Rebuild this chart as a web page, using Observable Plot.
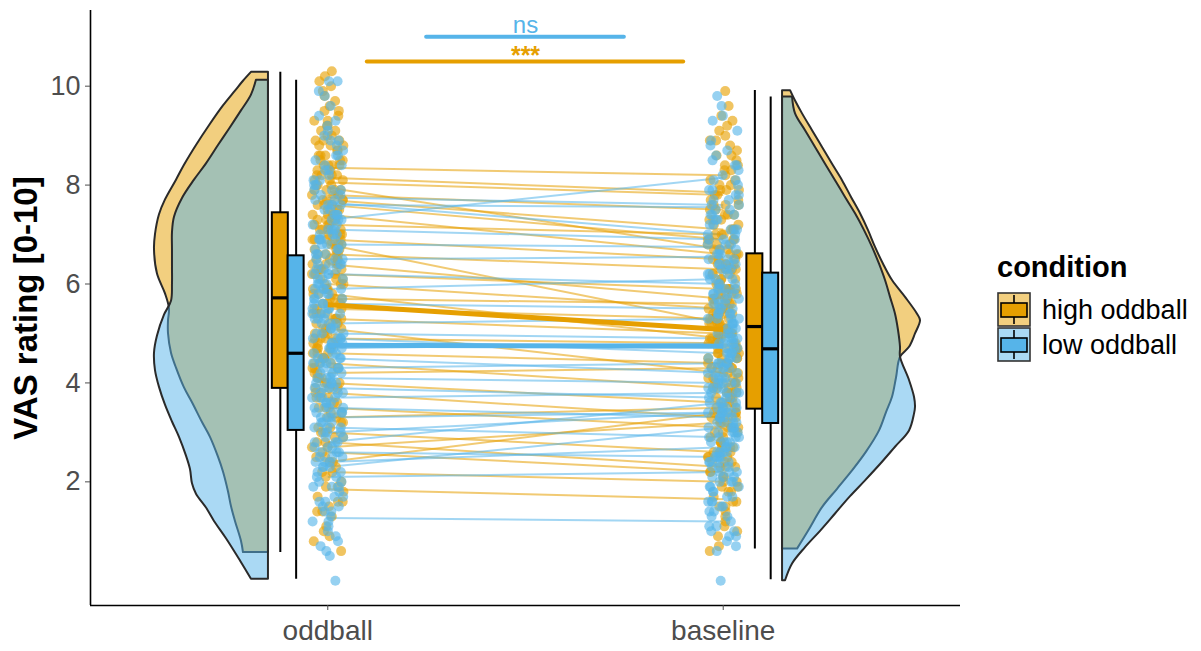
<!DOCTYPE html>
<html><head><meta charset="utf-8">
<script src="https://cdn.jsdelivr.net/npm/d3@7"></script>
<script src="https://cdn.jsdelivr.net/npm/@observablehq/plot@0.6"></script>
<style>
body{margin:0;background:#fff;font-family:"Liberation Sans",Arial,sans-serif;}
#wrap{position:relative;width:1201px;height:651px;overflow:hidden;}
#legend{position:absolute;left:990px;top:245px;}
</style></head><body><div id="wrap"></div>
<script>
const categories = ["oddball", "baseline"];
const conditions = ["high oddball", "low oddball"];
const colors = ["#E69F00", "#56B4E9"];
const yTicks = [2, 4, 6, 8, 10];
const sigLabels = ["***", "ns"];

// raw ratings (jittered points)
const oddballHigh = [0.6,0.8,0.9,1.0,1.1,1.3,1.4,1.4,1.5,1.6,1.6,1.7,1.8,1.9,1.9,2.0,2.1,2.2,2.2,2.3,2.4,2.4,2.5,2.5,2.6,2.7,2.7,2.8,2.8,2.9,2.9,3.0,3.0,3.1,3.1,3.2,3.2,3.3,3.3,3.4,3.4,3.5,3.5,3.6,3.6,3.7,3.7,3.7,3.8,3.8,3.9,3.9,3.9,4.0,4.0,4.0,4.1,4.1,4.1,4.2,4.2,4.3,4.3,4.3,4.4,4.4,4.4,4.5,4.5,4.5,4.6,4.6,4.6,4.7,4.7,4.7,4.8,4.8,4.8,4.9,4.9,4.9,4.9,5.0,5.0,5.0,5.1,5.1,5.1,5.2,5.2,5.2,5.3,5.3,5.3,5.3,5.4,5.4,5.4,5.4,5.5,5.5,5.5,5.6,5.6,5.6,5.7,5.7,5.7,5.8,5.8,5.8,5.9,5.9,5.9,5.9,6.0,6.0,6.0,6.1,6.1,6.1,6.2,6.2,6.2,6.3,6.3,6.3,6.3,6.4,6.4,6.4,6.4,6.5,6.5,6.5,6.5,6.6,6.6,6.6,6.6,6.7,6.7,6.7,6.8,6.8,6.8,6.8,6.9,6.9,6.9,6.9,7.0,7.0,7.0,7.0,7.1,7.1,7.1,7.1,7.2,7.2,7.2,7.3,7.3,7.3,7.3,7.4,7.4,7.4,7.4,7.5,7.5,7.5,7.6,7.6,7.6,7.7,7.7,7.7,7.7,7.8,7.8,7.8,7.9,7.9,7.9,7.9,8.0,8.0,8.0,8.1,8.1,8.1,8.2,8.2,8.2,8.2,8.3,8.3,8.3,8.4,8.4,8.4,8.4,8.5,8.5,8.5,8.6,8.6,8.6,8.7,8.7,8.8,8.8,8.8,8.9,8.9,8.9,9.0,9.0,9.1,9.1,9.2,9.2,9.3,9.3,9.4,9.5,9.5,9.6,9.7,9.8,9.9,10.0,10.1,10.2,10.3];
const oddballLow = [0.0,0.5,0.6,0.7,0.8,0.9,1.0,1.1,1.2,1.2,1.3,1.4,1.4,1.5,1.5,1.6,1.6,1.7,1.7,1.8,1.9,1.9,1.9,2.0,2.0,2.1,2.1,2.2,2.2,2.3,2.3,2.3,2.4,2.4,2.4,2.5,2.5,2.5,2.6,2.6,2.6,2.7,2.7,2.7,2.8,2.8,2.8,2.9,2.9,3.0,3.0,3.0,3.1,3.1,3.1,3.2,3.2,3.2,3.3,3.3,3.3,3.4,3.4,3.4,3.4,3.5,3.5,3.5,3.5,3.6,3.6,3.6,3.7,3.7,3.7,3.7,3.8,3.8,3.8,3.9,3.9,3.9,3.9,4.0,4.0,4.0,4.0,4.1,4.1,4.1,4.2,4.2,4.2,4.2,4.3,4.3,4.3,4.4,4.4,4.4,4.4,4.5,4.5,4.5,4.5,4.6,4.6,4.6,4.7,4.7,4.7,4.7,4.8,4.8,4.8,4.9,4.9,4.9,4.9,5.0,5.0,5.0,5.1,5.1,5.1,5.2,5.2,5.2,5.3,5.3,5.3,5.4,5.4,5.4,5.4,5.5,5.5,5.5,5.6,5.6,5.6,5.7,5.7,5.7,5.8,5.8,5.8,5.9,5.9,5.9,5.9,6.0,6.0,6.0,6.1,6.1,6.1,6.2,6.2,6.2,6.3,6.3,6.3,6.4,6.4,6.4,6.4,6.5,6.5,6.5,6.6,6.6,6.6,6.7,6.7,6.7,6.8,6.8,6.8,6.9,6.9,6.9,6.9,7.0,7.0,7.0,7.1,7.1,7.1,7.2,7.2,7.3,7.3,7.3,7.4,7.4,7.4,7.5,7.5,7.6,7.6,7.6,7.7,7.7,7.8,7.8,7.9,7.9,7.9,8.0,8.0,8.1,8.1,8.2,8.3,8.3,8.4,8.4,8.5,8.6,8.6,8.7,8.8,8.9,8.9,9.0,9.1,9.2,9.3,9.4,9.6,9.8,9.9,10.1,10.1];
const baselineHigh = [0.6,0.7,0.9,1.0,1.1,1.2,1.3,1.4,1.5,1.5,1.6,1.6,1.7,1.8,1.8,1.9,1.9,2.0,2.0,2.1,2.1,2.2,2.2,2.3,2.3,2.3,2.4,2.4,2.4,2.5,2.5,2.5,2.6,2.6,2.6,2.7,2.7,2.7,2.8,2.8,2.8,2.9,2.9,3.0,3.0,3.0,3.1,3.1,3.1,3.2,3.2,3.2,3.3,3.3,3.3,3.3,3.4,3.4,3.4,3.4,3.5,3.5,3.5,3.6,3.6,3.6,3.7,3.7,3.7,3.8,3.8,3.8,3.8,3.9,3.9,3.9,3.9,4.0,4.0,4.0,4.0,4.1,4.1,4.1,4.1,4.2,4.2,4.2,4.3,4.3,4.3,4.3,4.4,4.4,4.4,4.4,4.5,4.5,4.5,4.5,4.6,4.6,4.6,4.6,4.7,4.7,4.7,4.7,4.8,4.8,4.8,4.8,4.9,4.9,4.9,4.9,4.9,5.0,5.0,5.0,5.0,5.0,5.1,5.1,5.1,5.1,5.2,5.2,5.2,5.2,5.2,5.3,5.3,5.3,5.3,5.4,5.4,5.4,5.4,5.4,5.5,5.5,5.5,5.5,5.6,5.6,5.6,5.6,5.7,5.7,5.7,5.7,5.8,5.8,5.8,5.8,5.9,5.9,5.9,5.9,5.9,6.0,6.0,6.0,6.1,6.1,6.1,6.2,6.2,6.2,6.3,6.3,6.3,6.3,6.4,6.4,6.4,6.4,6.5,6.5,6.5,6.6,6.6,6.6,6.7,6.7,6.7,6.8,6.8,6.8,6.9,6.9,6.9,6.9,7.0,7.0,7.0,7.1,7.1,7.1,7.2,7.2,7.3,7.3,7.3,7.4,7.4,7.4,7.5,7.5,7.6,7.6,7.6,7.7,7.7,7.8,7.8,7.9,7.9,7.9,8.0,8.0,8.1,8.1,8.2,8.3,8.3,8.4,8.4,8.5,8.6,8.6,8.7,8.8,8.9,8.9,9.0,9.1,9.2,9.3,9.4,9.6,9.9];
const baselineLow = [0.0,0.6,0.7,0.8,0.9,0.9,1.0,1.0,1.1,1.1,1.2,1.3,1.3,1.4,1.4,1.5,1.5,1.6,1.6,1.6,1.7,1.7,1.8,1.8,1.9,1.9,1.9,2.0,2.0,2.0,2.1,2.1,2.1,2.2,2.2,2.2,2.3,2.3,2.3,2.4,2.4,2.4,2.4,2.5,2.5,2.5,2.5,2.6,2.6,2.6,2.6,2.7,2.7,2.7,2.8,2.8,2.8,2.8,2.9,2.9,2.9,2.9,3.0,3.0,3.0,3.0,3.1,3.1,3.1,3.1,3.2,3.2,3.2,3.2,3.3,3.3,3.3,3.3,3.4,3.4,3.4,3.4,3.4,3.5,3.5,3.5,3.5,3.6,3.6,3.6,3.6,3.7,3.7,3.7,3.8,3.8,3.8,3.8,3.9,3.9,3.9,3.9,4.0,4.0,4.0,4.0,4.1,4.1,4.1,4.1,4.2,4.2,4.2,4.3,4.3,4.3,4.3,4.4,4.4,4.4,4.4,4.5,4.5,4.5,4.5,4.6,4.6,4.6,4.6,4.7,4.7,4.7,4.8,4.8,4.8,4.8,4.9,4.9,4.9,4.9,5.0,5.0,5.0,5.1,5.1,5.1,5.2,5.2,5.2,5.3,5.3,5.3,5.3,5.4,5.4,5.4,5.4,5.5,5.5,5.5,5.6,5.6,5.6,5.7,5.7,5.7,5.8,5.8,5.8,5.8,5.9,5.9,5.9,5.9,6.0,6.0,6.0,6.1,6.1,6.1,6.2,6.2,6.2,6.3,6.3,6.3,6.4,6.4,6.4,6.4,6.5,6.5,6.5,6.6,6.6,6.6,6.7,6.7,6.8,6.8,6.8,6.9,6.9,6.9,7.0,7.0,7.1,7.1,7.1,7.2,7.2,7.3,7.3,7.4,7.4,7.4,7.5,7.5,7.6,7.6,7.7,7.7,7.8,7.8,7.9,7.9,8.0,8.1,8.1,8.2,8.3,8.4,8.4,8.5,8.6,8.7,8.8,8.9,9.1,9.3,9.4,9.6,9.8];

// per-subject means: oddball -> baseline
const subjHighOddball  = [8.35,8.15,8.05,7.95,7.8,7.7,7.6,7.4,7.2,6.9,6.8,6.6,6.4,6.2,6.0,5.8,5.7,5.5,5.3,5.1,4.9,4.6,4.4,4.2,4.0,3.8,3.5,3.3,3.0,2.8,2.7,2.6,2.4,2.2,1.85];
const subjHighBaseline = [8.2,7.85,7.8,6.7,7.5,7.1,6.9,6.6,7.0,6.5,5.2,6.3,5.7,5.9,5.5,4.9,5.6,5.3,5.0,4.2,4.8,4.4,3.9,4.3,3.6,3.3,3.1,3.5,2.6,2.3,3.2,2.2,3.4,2.0,1.65];
const subjLowOddball   = [7.75,7.65,7.6,7.3,7.1,6.8,6.5,6.2,5.9,5.6,5.2,5.0,4.9,4.7,4.5,4.3,4.1,3.9,3.7,3.5,3.3,3.1,3.0,2.8,2.6,2.4,2.3,2.1,1.27];
const subjLowBaseline  = [7.6,7.0,7.55,8.15,6.9,6.75,6.55,6.0,6.1,5.5,5.3,4.9,4.6,4.8,4.2,4.4,4.0,3.7,3.8,3.3,3.4,2.9,3.4,3.6,2.5,2.7,3.1,2.2,1.2];

// group means [oddball, baseline]
const meanHigh = [5.58, 5.08];
const meanLow  = [4.76, 4.74];

// box stats [min, q1, median, q3, max]
const boxOddballHigh  = [0.57, 3.89, 5.72, 7.44, 10.28];
const boxOddballLow   = [0.03, 3.04, 4.60, 6.57, 10.12];
const boxBaselineHigh = [0.64, 3.47, 5.14, 6.61, 9.91];
const boxBaselineLow  = [0.02, 3.18, 4.69, 6.22, 9.78];

// half-violin densities [rating, density]
const densOddballHigh = [[0.57,0.25],[0.8,0.27],[1.2,0.33],[1.5,0.37],[1.8,0.40],[2.2,0.45],[2.5,0.50],[2.9,0.58],[3.2,0.66],[3.6,0.76],[3.9,0.84],[4.3,0.92],[4.6,0.97],[5.0,1.00],[5.25,1.00],[5.5,0.99],[5.8,1.03],[6.2,1.11],[6.7,1.14],[7.0,1.13],[7.4,1.09],[7.7,1.03],[8.1,0.92],[8.4,0.84],[8.8,0.72],[9.2,0.59],[9.6,0.45],[9.9,0.33],[10.1,0.25],[10.28,0.17]];
const densOddballLow = [[0.03,0.17],[0.4,0.28],[0.85,0.42],[1.2,0.54],[1.47,0.62],[1.75,0.72],[1.96,0.76],[2.25,0.78],[2.52,0.82],[2.9,0.89],[3.21,0.96],[3.55,1.03],[3.91,1.09],[4.25,1.13],[4.6,1.14],[4.95,1.11],[5.37,1.04],[5.65,0.97],[6.0,0.96],[6.34,0.96],[6.7,0.96],[7.04,0.96],[7.35,0.94],[7.73,0.86],[8.1,0.74],[8.43,0.62],[8.8,0.5],[9.13,0.39],[9.5,0.27],[9.82,0.17],[10.12,0.12]];
const densBaselineHigh = [[0.64,0.15],[1.0,0.26],[1.48,0.40],[1.85,0.55],[2.22,0.70],[2.6,0.84],[3.03,0.97],[3.4,1.04],[3.71,1.10],[4.1,1.14],[4.52,1.18],[4.72,1.27],[4.99,1.33],[5.26,1.38],[5.39,1.35],[5.73,1.23],[6.07,1.10],[6.4,1.01],[6.74,0.93],[7.08,0.86],[7.42,0.78],[7.75,0.69],[8.09,0.60],[8.42,0.50],[8.76,0.40],[9.1,0.30],[9.44,0.20],[9.7,0.13],[9.91,0.08]];
const densBaselineLow = [[0.0,0.03],[0.34,0.10],[0.67,0.23],[1.0,0.38],[1.35,0.53],[1.7,0.68],[2.02,0.83],[2.35,0.98],[2.70,1.13],[3.03,1.27],[3.37,1.32],[3.51,1.33],[3.71,1.32],[4.05,1.27],[4.52,1.18],[4.72,1.18],[5.06,1.16],[5.39,1.13],[5.73,1.08],[6.07,1.03],[6.4,0.97],[6.74,0.90],[7.08,0.82],[7.42,0.73],[7.75,0.63],[8.09,0.53],[8.42,0.43],[8.76,0.33],[9.1,0.23],[9.44,0.13],[9.78,0.10]];

// ---------- layout helpers ----------
const pos = c => categories.indexOf(c) + 1;
const densScale = 0.2528;     // density -> x units
const violinGap = 0.15;       // flat edge offset from category
const boxHalf = 0.0202;
const jitterWidth = 0.08;
function jit(i, s) { const t = Math.sin((i + 1) * 12.9898 + s * 78.233) * 43758.5453; return t - Math.floor(t); }

const groups = [
  {cat: "oddball", cond: 0, vals: oddballHigh, dens: densOddballHigh, box: boxOddballHigh, side: -1, boxOff: -0.12},
  {cat: "oddball", cond: 1, vals: oddballLow, dens: densOddballLow, box: boxOddballLow, side: -1, boxOff: -0.08},
  {cat: "baseline", cond: 0, vals: baselineHigh, dens: densBaselineHigh, box: boxBaselineHigh, side: 1, boxOff: 0.08},
  {cat: "baseline", cond: 1, vals: baselineLow, dens: densBaselineLow, box: boxBaselineLow, side: 1, boxOff: 0.12}
];

const marks = [];
// violins
for (const g of groups) {
  const flat = pos(g.cat) + g.side * violinGap;
  marks.push(Plot.areaX(g.dens, {
    y: d => d[0], x1: d => flat, x2: d => flat + g.side * d[1] * densScale,
    fill: colors[g.cond], fillOpacity: 0.5, stroke: "#2a2a2a", strokeWidth: 2, curve: "catmull-rom"
  }));
}
// subject lines
const subj = [
  {o: subjHighOddball, b: subjHighBaseline, cond: 0},
  {o: subjLowOddball, b: subjLowBaseline, cond: 1}
];
for (const s of subj) {
  const rows = s.o.map((v, i) => ({y1: v, y2: s.b[i]}));
  marks.push(Plot.link(rows, {x1: () => pos("oddball"), x2: () => pos("baseline"), y1: "y1", y2: "y2",
    stroke: colors[s.cond], strokeOpacity: 0.55, strokeWidth: 2}));
}
// points
groups.forEach((g, gi) => {
  const rows = g.vals.map((v, i) => ({x: pos(g.cat) + (jit(i, gi) - 0.5) * jitterWidth, y: v}));
  marks.push(Plot.dot(rows, {x: "x", y: "y", r: 5, fill: colors[g.cond], fillOpacity: 0.62, stroke: "none"}));
});
// mean lines
[meanHigh, meanLow].forEach((m, ci) => {
  marks.push(Plot.link([m], {x1: () => pos("oddball"), x2: () => pos("baseline"), y1: d => d[0], y2: d => d[1],
    stroke: colors[ci], strokeWidth: 5}));
});
// boxplots
for (const g of groups) {
  const c = pos(g.cat) + g.boxOff;
  marks.push(Plot.ruleX([g.box], {x: () => c, y1: d => d[0], y2: d => d[4], stroke: "#000", strokeWidth: 2}));
  marks.push(Plot.rect([g.box], {x1: () => c - boxHalf, x2: () => c + boxHalf, y1: d => d[1], y2: d => d[3],
    fill: colors[g.cond], stroke: "#000", strokeWidth: 2}));
  marks.push(Plot.ruleY([g.box], {y: d => d[2], x1: () => c - boxHalf, x2: () => c + boxHalf, stroke: "#000", strokeWidth: 3.2}));
}
// significance bars
const sig = [
  {label: sigLabels[0], cond: 0, x1: 1.1, x2: 1.9, y: 10.5, fs: 25, dy: 3, fw: "bold"},
  {label: sigLabels[1], cond: 1, x1: 1.25, x2: 1.75, y: 11.0, fs: 24, dy: -4, fw: "normal"}
];
for (const s of sig) {
  marks.push(Plot.ruleY([s], {y: "y", x1: "x1", x2: "x2", stroke: colors[s.cond], strokeWidth: 4, strokeLinecap: "round"}));
  marks.push(Plot.text([s], {x: d => (d.x1 + d.x2) / 2, y: "y", text: "label", fill: colors[s.cond],
    fontSize: s.fs, fontWeight: s.fw, lineAnchor: "bottom", dy: s.dy}));
}
// axes
marks.push(Plot.ruleX([0.4], {stroke: "#000", strokeWidth: 1.6}));
marks.push(Plot.ruleY([-0.5], {stroke: "#000", strokeWidth: 1.6}));
marks.push(Plot.axisY(yTicks, {tickSize: 5, tickPadding: 5, fontSize: 27, color: "#4D4D4D", label: null}));
marks.push(Plot.axisX([1, 2], {tickFormat: d => categories[d - 1], tickSize: 5, tickPadding: 10, fontSize: 28, color: "#4D4D4D", label: null}));
marks.push(Plot.text(["VAS rating [0-10]"], {text: d => d, frameAnchor: "left", rotate: -90, dx: -54, lineAnchor: "bottom",
  textAnchor: "middle", fontSize: 33, fontWeight: "bold", fill: "#000"}));

const chart = Plot.plot({
  width: 1201, height: 651,
  marginLeft: 90, marginRight: 241, marginTop: 10, marginBottom: 46,
  x: {domain: [0.4, 2.6], axis: null},
  y: {domain: [-0.5, 11.53], axis: null},
  style: {fontFamily: "'Liberation Sans', Arial, sans-serif", background: "#fff", color: "#000", overflow: "visible"},
  marks
});
const wrap = document.getElementById("wrap");
wrap.appendChild(chart);

// legend
const ns = "http://www.w3.org/2000/svg";
const leg = document.createElementNS(ns, "svg");
leg.setAttribute("id", "legend");
leg.setAttribute("width", 211); leg.setAttribute("height", 130);
leg.style.fontFamily = "'Liberation Sans', Arial, sans-serif";
let html = `<text x="7" y="32" font-size="29" font-weight="bold" fill="#000">condition</text>`;
conditions.forEach((c, i) => {
  const ty = 47 + i * 35;
  html += `<g transform="translate(7,${ty})">
    <rect x="1" y="1" width="32" height="33" fill="${colors[i]}" fill-opacity="0.5" stroke="#333" stroke-width="1.6"/>
    <line x1="17" x2="17" y1="3" y2="11" stroke="#000" stroke-width="1.6"/>
    <line x1="17" x2="17" y1="25" y2="32" stroke="#000" stroke-width="1.6"/>
    <rect x="4" y="11" width="26" height="14" fill="${colors[i]}" stroke="#000" stroke-width="1.6"/>
  </g>
  <text x="52" y="${ty + 27}" font-size="27" fill="#000">${c}</text>`;
});
leg.innerHTML = html;
wrap.appendChild(leg);
</script></body></html>
